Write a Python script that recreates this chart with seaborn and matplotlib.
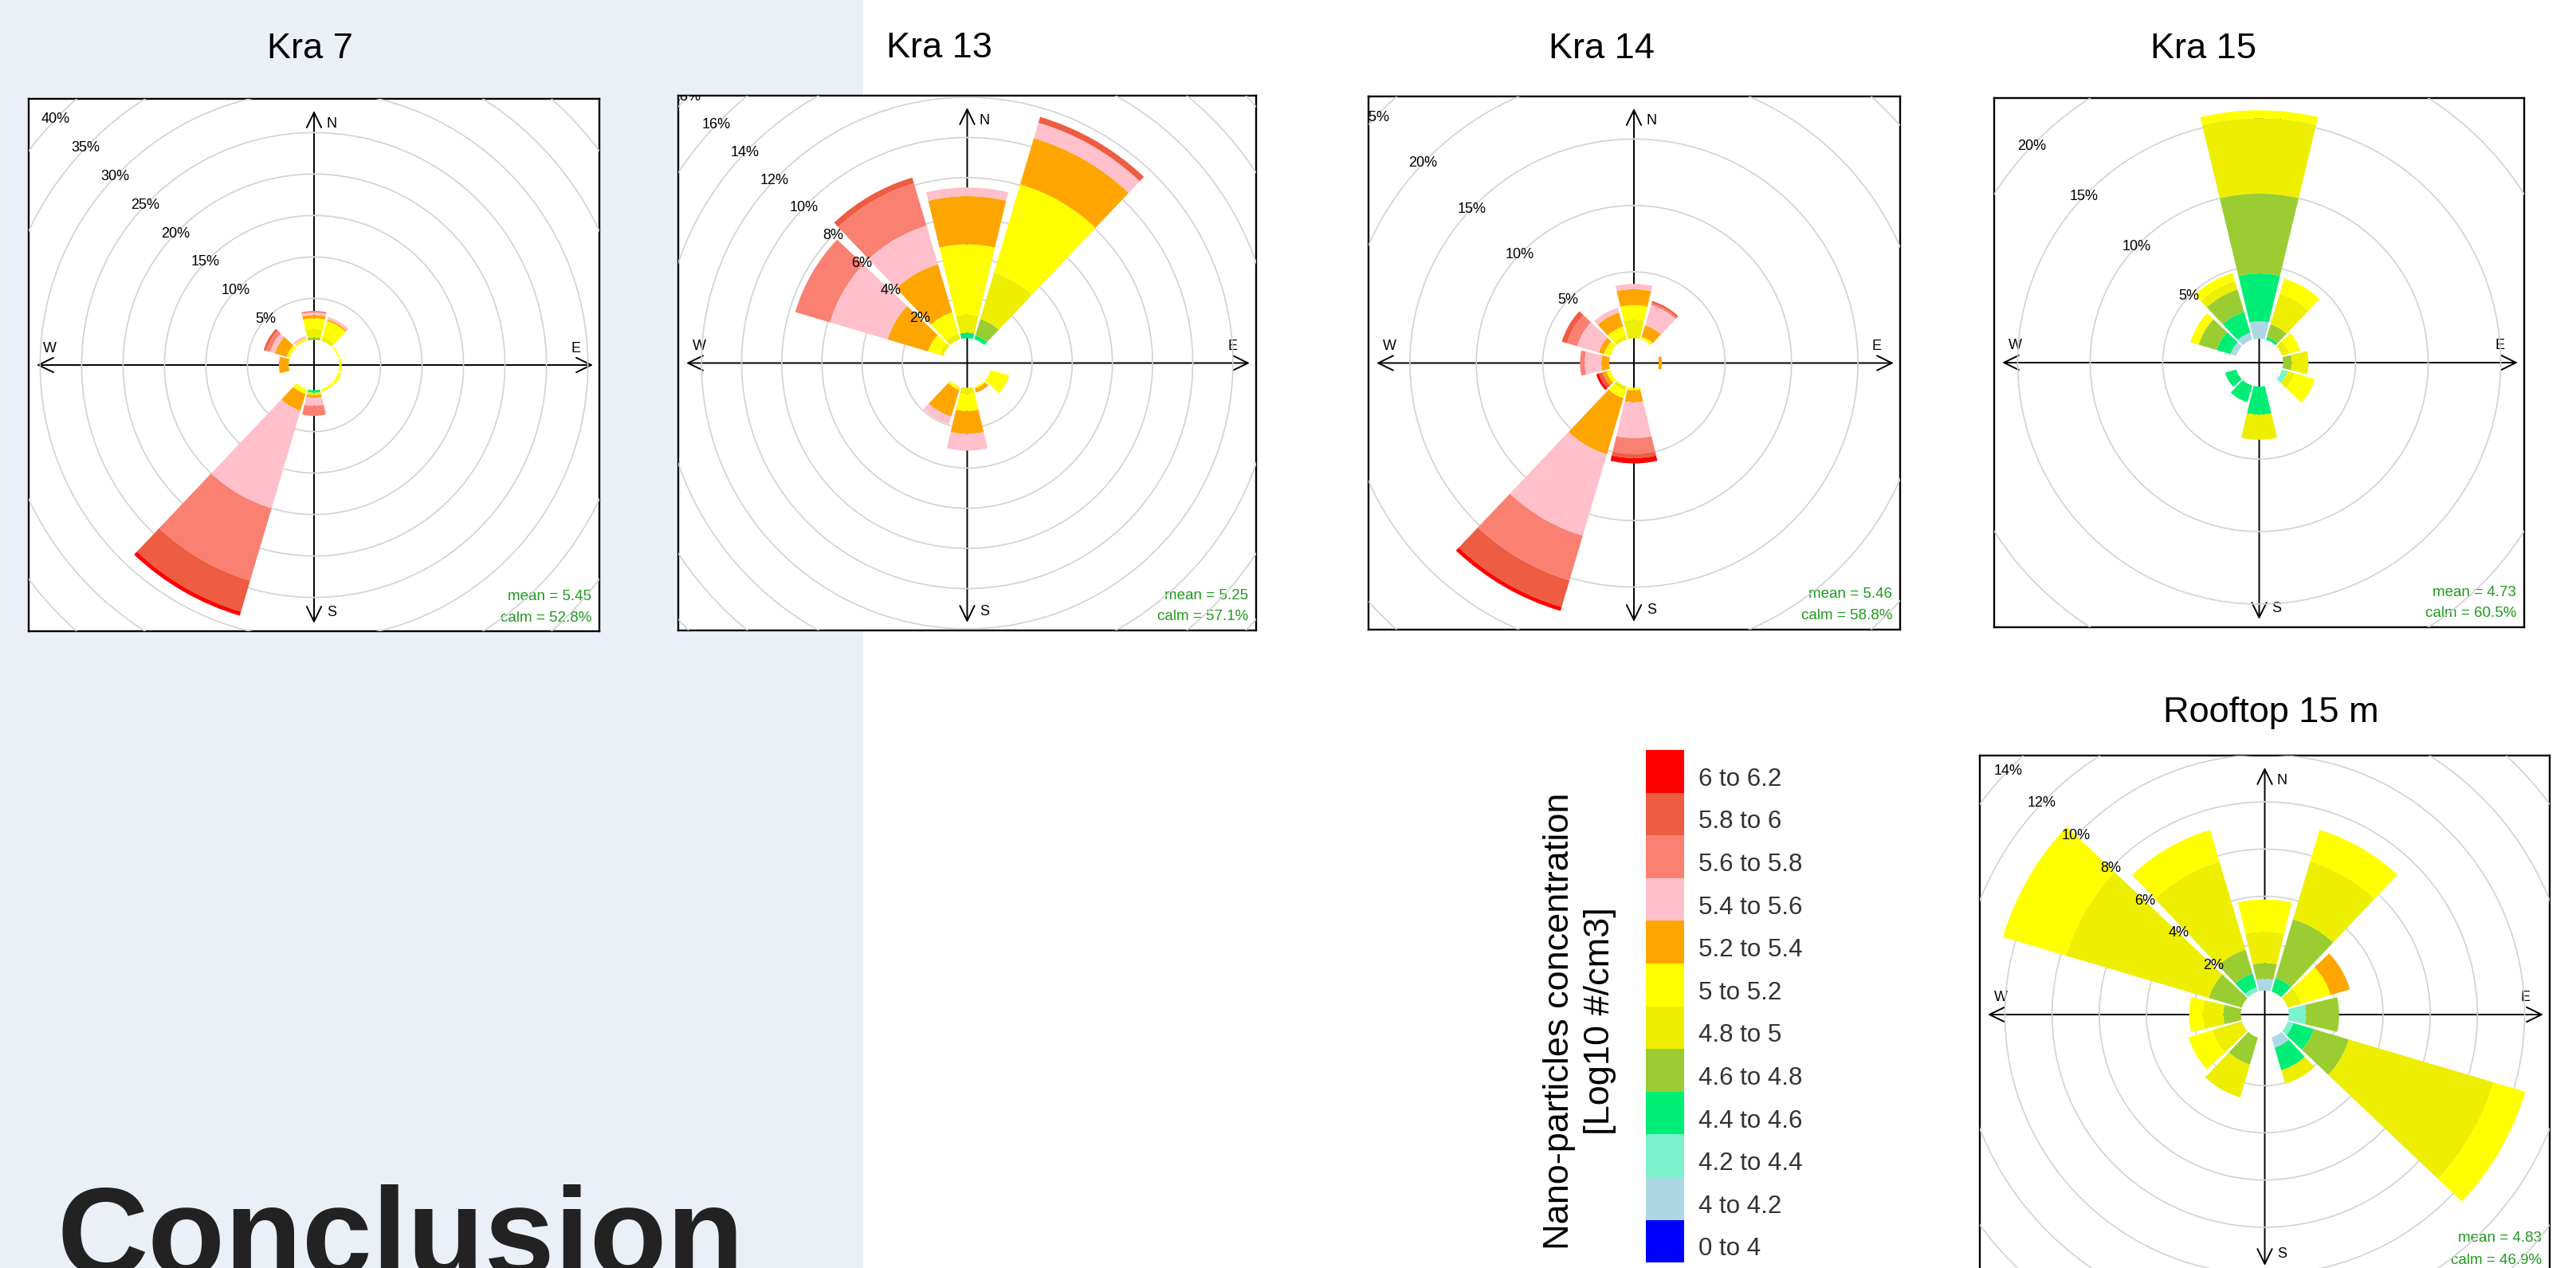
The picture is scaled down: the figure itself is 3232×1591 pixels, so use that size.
import numpy as np
import pandas as pd
import matplotlib
matplotlib.use("Agg")
import matplotlib.pyplot as plt
from matplotlib.patches import Rectangle
import seaborn as sns

sns.set_theme(style="white")
plt.rcParams["font.family"] = ["Liberation Sans", "DejaVu Sans"]

# ---------------- data ----------------
bins = ["0 to 4", "4 to 4.2", "4.2 to 4.4", "4.4 to 4.6", "4.6 to 4.8", "4.8 to 5",
        "5 to 5.2", "5.2 to 5.4", "5.4 to 5.6", "5.6 to 5.8", "5.8 to 6", "6 to 6.2"]
bin_colors = ["#0000FF", "#ADD8E6", "#7CF2CC", "#00EE76", "#9ACD32", "#EEEE00",
              "#FFFF00", "#FFA500", "#FFC0CB", "#FA8072", "#EE5C42", "#FF0000"]
directions = [0, 30, 60, 90, 120, 150, 180, 210, 240, 270, 300, 330]

# frequency (%) per direction (rows) and concentration bin (columns)
kra7 = [
    [0, 0, 0, 0, .3, 1.0, 1.3, .4, .3, .2, 0, 0],
    [0, 0, 0, 0, 0, .5, 2.0, .2, .3, 0, 0, 0],
    [0, 0, 0, 0, 0, 0, .2, 0, 0, 0, 0, 0],
    [0, 0, 0, 0, 0, 0, .3, 0, 0, 0, 0, 0],
    [0, 0, 0, 0, 0, 0, .4, 0, 0, 0, 0, 0],
    [0, 0, 0, 0, 0, 0, .3, 0, 0, 0, 0, 0],
    [0, 0, 0, .3, 0, .3, 0, .3, 1.0, 1.2, 0, 0],
    [0, 0, 0, 0, 0, 0, .6, 2.1, 12.3, 9.1, 3.9, .5],
    [0, 0, 0, 0, 0, 0, 0, 0, 0, 0, 0, 0],
    [0, 0, 0, 0, 0, 0, 0, 1.2, 0, 0, 0, 0],
    [0, 0, 0, 0, 0, 0, .4, 1.5, .6, .5, .3, 0],
    [0, 0, 0, 0, 0, 0, .3, 0, .3, 0, 0, 0],
]
kra13 = [
    [0, 0, 0, .28, 0, .9, 3.5, 2.4, .43, 0, 0, 0],
    [0, 0, 0, .2, .85, 2.4, 4.6, 2.4, .8, 0, .3, 0],
    [0, 0, 0, 0, 0, 0, 0, 0, 0, 0, 0, 0],
    [0, 0, 0, 0, 0, 0, 0, 0, 0, 0, 0, 0],
    [0, 0, 0, 0, 0, 0, .95, 0, 0, 0, 0, 0],
    [0, 0, 0, 0, 0, 0, .1, .2, 0, 0, 0, 0],
    [0, 0, 0, 0, 0, .33, .83, 1.14, .83, 0, 0, 0],
    [0, 0, 0, 0, 0, 0, .15, 1.4, .4, 0, 0, 0],
    [0, 0, 0, 0, 0, 0, 0, 0, 0, 0, 0, 0],
    [0, 0, 0, 0, 0, 0, 0, 0, 0, 0, 0, 0],
    [0, 0, 0, 0, 0, .2, .6, 2.1, 3.0, 1.8, 0, 0],
    [0, 0, 0, 0, 0, .3, 1.1, 2.5, 2.0, 2.2, .3, 0],
]
kra14 = [
    [0, 0, 0, 0, 0, 1.4, 1.1, 1.2, .4, 0, 0, 0],
    [0, 0, 0, 0, 0, 0, .2, .9, 1.6, .15, .15, 0],
    [0, 0, 0, 0, 0, 0, 0, 0, 0, 0, 0, 0],
    [0, 0, 0, 0, 0, 0, 0, .25, 0, 0, 0, 0],
    [0, 0, 0, 0, 0, 0, 0, 0, 0, 0, 0, 0],
    [0, 0, 0, 0, 0, 0, 0, 0, 0, 0, 0, 0],
    [0, 0, 0, 0, 0, 0, .2, .9, 2.7, 1.2, .3, .4],
    [0, 0, 0, 0, 0, .3, .6, 4.4, 6.4, 3.5, 2.1, .3],
    [0, 0, 0, 0, 0, 0, .3, .3, 0, 0, .3, .2],
    [0, 0, 0, 0, 0, 0, 0, .6, 1.25, .35, 0, 0],
    [0, 0, 0, 0, 0, 0, .5, .4, 1.7, .8, .4, 0],
    [0, 0, 0, 0, 0, .3, .7, 1.1, .37, 0, 0, 0],
]
kra15 = [
    [0, 1.2, 0, 3.3, 5.5, 5.2, .55, 0, 0, 0, 0, 0],
    [0, 0, 0, .2, .9, 2.2, 1.1, 0, 0, 0, 0, 0],
    [0, 0, 0, 0, 0, .5, .8, 0, 0, 0, 0, 0],
    [0, 0, 0, 0, .6, 1.15, 0, 0, 0, 0, 0, 0],
    [0, 0, .4, 0, 0, .5, 1.45, 0, 0, 0, 0, 0],
    [0, 0, 0, 0, 0, 0, 0, 0, 0, 0, 0, 0],
    [0, 0, 0, 1.94, 0, 1.73, 0, 0, 0, 0, 0, 0],
    [0, 0, 0, 1.2, 0, 0, 0, 0, 0, 0, 0, 0],
    [0, 0, 0, .8, 0, 0, 0, 0, 0, 0, 0, 0],
    [0, 0, 0, 0, 0, 0, 0, 0, 0, 0, 0, 0],
    [0, .4, 0, 1.0, 1.3, 0, .6, 0, 0, 0, 0, 0],
    [0, .5, 0, 1.5, 1.6, .6, .6, 0, 0, 0, 0, 0],
]
rooftop = [
    [0, .5, 0, 0, .67, 1.33, 1.37, 0, 0, 0, 0, 0],
    [0, 0, 0, .6, 2.6, 2.55, 1.4, 0, 0, 0, 0, 0],
    [0, 0, 0, 0, 0, .6, 1.3, .85, 0, 0, 0, 0],
    [0, 0, .74, 0, 1.4, 0, 0, 0, 0, 0, 0, 0],
    [0, 0, .25, .9, 1.55, 6.4, 1.4, 0, 0, 0, 0, 0],
    [0, .45, 0, 1.0, 0, .6, 0, 0, 0, 0, 0, 0],
    [0, 0, 0, 0, 0, 0, 0, 0, 0, 0, 0, 0],
    [0, 0, 0, 0, 1.2, 1.45, 0, 0, 0, 0, 0, 0],
    [0, 0, 0, 0, 0, 1.3, 1.06, 0, 0, 0, 0, 0],
    [0, 0, 0, 0, .74, .87, .58, 0, 0, 0, 0, 0],
    [0, 0, 0, 0, 1.46, 6.3, 2.8, 0, 0, 0, 0, 0],
    [0, 0, .2, .6, 1.05, 3.9, 1.4, 0, 0, 0, 0, 0],
]

site_titles = ["Kra 7", "Kra 13", "Kra 14", "Kra 15", "Rooftop 15 m"]
site_tables = [kra7, kra13, kra14, kra15, rooftop]
site_means = ["5.45", "5.25", "5.46", "4.73", "4.83"]
site_calms = ["52.8%", "57.1%", "58.8%", "60.5%", "46.9%"]
ring_steps = [5, 2, 5, 5, 2]

legend_title = "Nano-particles concentration\n[Log10 #/cm3]"

# ---------------- layout (pixels, origin top-left) ----------------
W, H, DPI = 3232, 1591, 100
boxes = [(36, 124, 752, 792), (851, 120, 1576, 791), (1717, 121, 2384, 790),
         (2502, 123, 3167, 787), (2484, 948, 3199, 1598)]
centers = [(394, 458), (1213.5, 455.5), (2050, 455.5), (2834.5, 455), (2841.5, 1273)]
px_per_pct = [10.4, 25.2, 16.67, 18.2, 29.6]
hole_px = [31.6, 31, 31, 30, 30]
title_pos = [(389, 73), (1178, 72), (2009.5, 73), (2764, 73), (2849, 906)]

sns.set_palette(bin_colors)
fig = plt.figure(figsize=(W / DPI, H / DPI), dpi=DPI)
fig.patch.set_facecolor("white")


def fig_rect(x0, y0, x1, y1):
    return [x0 / W, 1 - y1 / H, (x1 - x0) / W, (y1 - y0) / H]


fig.add_artist(Rectangle((0, 0), 1083 / W, 1, transform=fig.transFigure,
                         facecolor="#EBF0F7", edgecolor="none", zorder=-5))

GREEN = "#1E9A1E"


def draw_rose(i):
    x0, y0, x1, y1 = boxes[i]
    cx, cy = centers[i]
    bw, bh = x1 - x0, y1 - y0
    bax = fig.add_axes(fig_rect(x0, y0, x1, y1))
    bax.set_xlim(0, bw)
    bax.set_ylim(bh, 0)
    bax.set_facecolor("white")
    bax.set_xticks([])
    bax.set_yticks([])
    for s in bax.spines.values():
        s.set_visible(True)
        s.set_edgecolor("black")
        s.set_linewidth(1.7)
    ccx, ccy = cx - x0, cy - y0
    arrow = dict(arrowstyle="<->,head_length=0.45,head_width=0.22", color="black",
                 lw=1.4, mutation_scale=30, shrinkA=0, shrinkB=0)
    bax.annotate("", xy=(ccx, 15), xytext=(ccx, bh - 10), arrowprops=arrow)
    bax.annotate("", xy=(bw - 8, ccy), xytext=(10, ccy), arrowprops=arrow)
    fs = 13
    bax.text(ccx + 22, 31, "N", fontsize=fs, ha="center", va="center", color="black")
    bax.text(bw - 30, ccy - 21, "E", fontsize=fs, ha="center", va="center", color="black")
    bax.text(26, ccy - 21, "W", fontsize=fs, ha="center", va="center", color="black")
    bax.text(ccx + 22, bh - 24, "S", fontsize=fs, ha="center", va="center", color="black")
    bax.text(bw - 10, bh - 44, f"mean = {site_means[i]}", fontsize=13.5, ha="right",
             va="center", color=GREEN)
    bax.text(bw - 10, bh - 17, f"calm = {site_calms[i]}", fontsize=13.5, ha="right",
             va="center", color=GREEN)

    # polar axes for the rose itself, clipped to the rectangular frame
    R = max(np.hypot(cx - x, cy - y) for x in (x0, x1) for y in (y0, y1)) + 12
    pax = fig.add_axes(fig_rect(cx - R, cy - R, cx + R, cy + R), projection="polar")
    pax.set_theta_zero_location("N")
    pax.set_theta_direction(-1)
    k = px_per_pct[i]
    hole = hole_px[i] / k
    rmax = R / k - hole
    clip = bax.patch
    theta = np.linspace(0, 2 * np.pi, 721)
    step = ring_steps[i]
    for v in np.arange(step, rmax, step):
        ln, = pax.plot(theta, np.full_like(theta, v), color="#D2D2D2", lw=1.2, zorder=1)
        ln.set_clip_path(clip)
        t = pax.text(np.deg2rad(313.5), v, f"{v:g}%", fontsize=13, ha="center",
                     va="center", color="black", zorder=5, clip_on=True)
        t.set_clip_path(clip)
    arr = np.array(site_tables[i], dtype=float)
    cum = np.cumsum(arr, axis=1) - arr
    th = np.deg2rad(directions)
    for j in range(len(bins)):
        bars = pax.bar(th, arr[:, j], width=np.deg2rad(27), bottom=cum[:, j],
                       color=bin_colors[j], edgecolor="none", linewidth=0, zorder=2)
        for b in bars:
            b.set_clip_path(clip)
    pax.set_rorigin(-hole)
    pax.set_ylim(0, rmax)
    pax.set_autoscale_on(False)
    pax.set_axis_off()


for i in range(len(site_titles)):
    draw_rose(i)
    tx, ty = title_pos[i]
    fig.text(tx / W, 1 - ty / H, site_titles[i], fontsize=32.5, ha="center",
             va="baseline", color="black")

# ---------------- legend ----------------
sq_top, sq_h = 941, 53.6
lax = fig.add_axes(fig_rect(2065, sq_top, 2113, sq_top + len(bins) * sq_h))
lax.bar(np.zeros(len(bins)), np.ones(len(bins)), width=1, bottom=np.arange(len(bins)),
        color=bin_colors, align="edge", edgecolor="none", linewidth=0)
lax.set_xlim(0, 1)
lax.set_ylim(0, len(bins))
lax.set_xticks([])
lax.yaxis.tick_right()
lax.set_yticks(np.arange(len(bins)) + 0.38)
lax.set_yticklabels(bins, fontsize=22.5, color="#333333")
lax.tick_params(axis="y", length=0, pad=13)
for s in lax.spines.values():
    s.set_visible(False)

fig.text(1982 / W, 1 - 1281 / H, legend_title, rotation=90, ha="center", va="center",
         fontsize=32.5, linespacing=1.3, multialignment="center", color="black")

fig.text(72 / W, 1 - 1600 / H, "Conclusion", fontsize=114, fontweight="bold",
         color="#222222", ha="left", va="baseline")

fig.savefig("out.png", dpi=DPI)
